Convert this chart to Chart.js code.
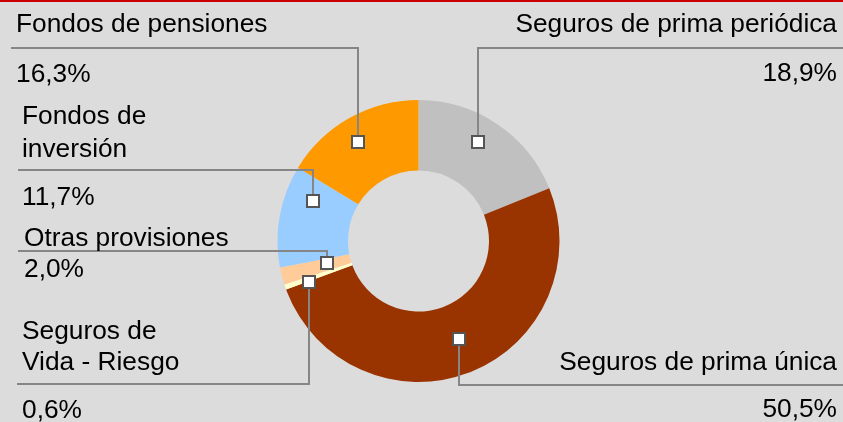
<!DOCTYPE html>
<html>
<head>
<meta charset="utf-8">
<script src="https://cdn.jsdelivr.net/npm/chart.js@4.4.1/dist/chart.umd.min.js"></script>
<style>
  html, body { margin: 0; padding: 0; background: #dcdcdc; }
  #chart { display: block; }
</style>
</head>
<body>
<canvas id="chart" width="843" height="422"></canvas>
<script>
// categorias (en orden de las agujas del reloj desde arriba)
const categorias = [
    ['Seguros de prima periódica'],
    ['Seguros de prima única'],
    ['Seguros de', 'Vida - Riesgo'],
    ['Otras provisiones'],
    ['Fondos de', 'inversión'],
    ['Fondos de pensiones']
];
const valores = [18.9, 50.5, 0.6, 2.0, 11.7, 16.3];
const colores = ['#c0c0c0', '#993300', '#ffffcc', '#ffcc99', '#99ccff', '#ff9900'];

// colocacion de etiquetas (texto, linea guia, marcador)
const etiquetas = [
    { align: 'right', x: 837, nameY: [32], pctY: 81, lineY: 48, lineX: 843, dAng: -3, rf: 0.82 },
    { align: 'right', x: 837, nameY: [370], pctY: 417, lineY: 385, lineX: 843, dAng: -1.6, rf: 0.75 },
    { align: 'left', x: 22, nameY: [339, 370], pctY: 418, lineY: 384, lineX: 17, dAng: -1.3, rf: 0.83 },
    { align: 'left', x: 24, nameY: [246], pctY: 277, lineY: 251, lineX: 18, dAng: 0.8, rf: 0.67 },
    { align: 'left', x: 22, nameY: [124, 157], pctY: 205, lineY: 170, lineX: 18, dAng: 10.4, rf: 0.80 },
    { align: 'left', x: 16, nameY: [32], pctY: 82, lineY: 48, lineX: 11, dAng: -2, rf: 0.82 }
];

const fmtPct = v => v.toFixed(1).replace('.', ',') + '%';

const fondoPlugin = {
    id: 'fondo',
    beforeDraw(chart) {
        const ctx = chart.ctx;
        ctx.save();
        ctx.fillStyle = '#dcdcdc';
        ctx.fillRect(0, 0, chart.width, chart.height);
        ctx.fillStyle = '#cc0000';
        ctx.fillRect(0, 0, chart.width, 2);
        ctx.restore();
    }
};

const etiquetasPlugin = {
    id: 'etiquetas',
    afterDraw(chart) {
        const ctx = chart.ctx;
        const arcs = chart.getDatasetMeta(0).data;
        const anchors = arcs.map((arc, i) => {
            const p = arc.getProps(['x', 'y', 'startAngle', 'endAngle', 'outerRadius']);
            const ang = (p.startAngle + p.endAngle) / 2 + etiquetas[i].dAng * Math.PI / 180;
            const r = p.outerRadius * etiquetas[i].rf;
            return { x: p.x + Math.cos(ang) * r, y: p.y + Math.sin(ang) * r };
        });

        ctx.save();
        // lineas guia
        ctx.strokeStyle = '#868686';
        ctx.lineWidth = 2;
        anchors.forEach((a, i) => {
            const e = etiquetas[i];
            ctx.beginPath();
            ctx.moveTo(Math.round(a.x), a.y);
            ctx.lineTo(Math.round(a.x), e.lineY);
            ctx.lineTo(e.lineX, e.lineY);
            ctx.stroke();
        });
        // marcadores
        anchors.forEach(a => {
            const s = 12;
            ctx.fillStyle = '#ffffff';
            ctx.strokeStyle = '#555555';
            ctx.lineWidth = 2;
            ctx.fillRect(Math.round(a.x) - s / 2, Math.round(a.y) - s / 2, s, s);
            ctx.strokeRect(Math.round(a.x) - s / 2, Math.round(a.y) - s / 2, s, s);
        });
        // textos
        ctx.fillStyle = '#000000';
        ctx.font = '26.3px "Liberation Sans", Arial, sans-serif';
        ctx.textBaseline = 'alphabetic';
        etiquetas.forEach((e, i) => {
            ctx.textAlign = e.align;
            categorias[i].forEach((line, j) => ctx.fillText(line, e.x, e.nameY[j]));
            ctx.fillText(fmtPct(valores[i]), e.x, e.pctY);
        });
        ctx.restore();
    }
};

new Chart(document.getElementById('chart').getContext('2d'), {
    type: 'doughnut',
    data: {
        labels: categorias.map(c => c.join(' ')),
        datasets: [{
            data: valores,
            backgroundColor: colores,
            borderWidth: 0
        }]
    },
    options: {
        responsive: false,
        devicePixelRatio: 1,
        animation: false,
        cutout: '50%',
        layout: { padding: { top: 100, bottom: 40, left: 0, right: 6 } },
        plugins: { legend: { display: false }, tooltip: { enabled: false } }
    },
    plugins: [fondoPlugin, etiquetasPlugin]
});
</script>
</body>
</html>
